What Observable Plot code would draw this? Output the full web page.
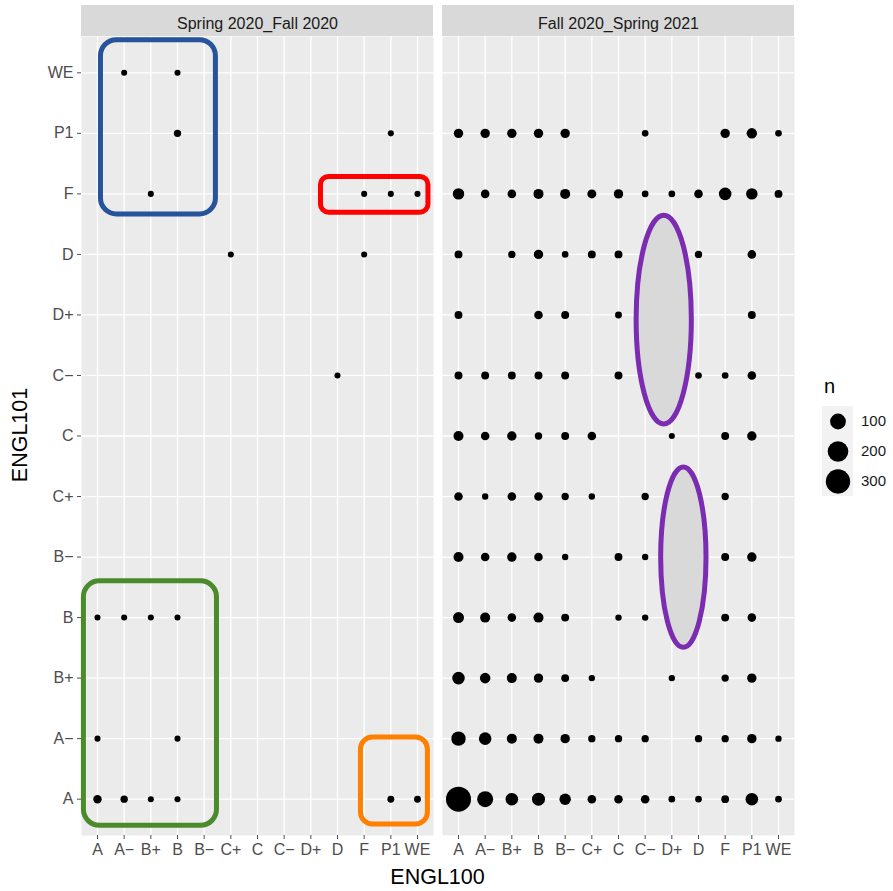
<!DOCTYPE html>
<html>
<head>
<meta charset="utf-8">
<script src="https://cdn.jsdelivr.net/npm/d3@7"></script>
<script src="https://cdn.jsdelivr.net/npm/@observablehq/plot@0.6"></script>
<style>
  html, body { margin: 0; padding: 0; background: #fff; }
  #chart { position: relative; width: 893px; height: 891px; font-family: "Liberation Sans", Arial, Helvetica, sans-serif; }
  #chart > svg.main { position: absolute; left: 0; top: 0; }
  .axis-title { position: absolute; color: #000; font-size: 21.5px; white-space: nowrap; line-height: 1; }
  #xtitle { left: 437.5px; top: 878px; transform: translate(-50%, -50%); }
  #ytitle { left: 21px; top: 435px; transform: translate(-50%, -50%) rotate(-90deg); }
  #legend-title { position: absolute; left: 824px; top: 376px; font-size: 20px; color: #000; line-height: 1; }
  #legend { position: absolute; left: 822px; top: 405px; }
</style>
</head>
<body>
<div id="chart">
  <div id="xtitle" class="axis-title">ENGL100</div>
  <div id="ytitle" class="axis-title">ENGL101</div>
  <div id="legend-title">n</div>
  <div id="legend"></div>
</div>
<script>
// Grade categories shared by both axes (bottom-to-top on y, left-to-right on x)
const grades = ["A", "A−", "B+", "B", "B−", "C+", "C", "C−", "D+", "D", "F", "P1", "WE"];
const terms = ["Spring 2020_Fall 2020", "Fall 2020_Spring 2021"];
const legendValues = [100, 200, 300];

// Counts per grade pair: [ENGL101 grade, ENGL100 grade, n]
const springFall2020 = [
  ["WE", "A−", 3], ["WE", "B", 3],
  ["P1", "B", 8], ["P1", "P1", 3],
  ["F", "B+", 3], ["F", "F", 3], ["F", "P1", 3], ["F", "WE", 3],
  ["D", "C+", 3], ["D", "F", 3],
  ["C−", "D", 3],
  ["B", "A", 3], ["B", "A−", 3], ["B", "B+", 3], ["B", "B", 3],
  ["A−", "A", 3], ["A−", "B", 3],
  ["A", "A", 14], ["A", "A−", 8], ["A", "B+", 3], ["A", "B", 3], ["A", "P1", 6], ["A", "WE", 6]
];

const fall2020Spring2021 = [
  ["P1", "A", 21], ["P1", "A−", 21], ["P1", "B+", 21], ["P1", "B", 21], ["P1", "B−", 21], ["P1", "C−", 5],
  ["P1", "F", 21], ["P1", "P1", 30], ["P1", "WE", 5],
  ["F", "A", 40], ["F", "A−", 15], ["F", "B+", 15], ["F", "B", 26], ["F", "B−", 26], ["F", "C+", 18],
  ["F", "C", 21], ["F", "C−", 5], ["F", "D+", 5], ["F", "D", 15], ["F", "F", 53], ["F", "P1", 40], ["F", "WE", 11],
  ["D", "A", 11], ["D", "B+", 8], ["D", "B", 21], ["D", "B−", 5], ["D", "C+", 11], ["D", "C", 11],
  ["D", "D", 8], ["D", "P1", 15],
  ["D+", "A", 11], ["D+", "B", 15], ["D+", "B−", 11], ["D+", "C", 6], ["D+", "P1", 11],
  ["C−", "A", 11], ["C−", "A−", 11], ["C−", "B+", 11], ["C−", "B", 11], ["C−", "B−", 11], ["C−", "C", 11],
  ["C−", "D", 5], ["C−", "F", 5], ["C−", "P1", 15],
  ["C", "A", 26], ["C", "A−", 15], ["C", "B+", 21], ["C", "B", 8], ["C", "B−", 11], ["C", "C+", 15],
  ["C", "D+", 3], ["C", "F", 11], ["C", "P1", 21],
  ["C+", "A", 15], ["C+", "A−", 4], ["C+", "B+", 15], ["C+", "B", 15], ["C+", "B−", 8], ["C+", "C+", 4],
  ["C+", "C−", 8], ["C+", "F", 8],
  ["B−", "A", 26], ["B−", "A−", 15], ["B−", "B+", 21], ["B−", "B", 15], ["B−", "B−", 4], ["B−", "C", 11],
  ["B−", "C−", 4], ["B−", "F", 11], ["B−", "P1", 21],
  ["B", "A", 35], ["B", "A−", 26], ["B", "B+", 15], ["B", "B", 26], ["B", "B−", 11], ["B", "C", 4],
  ["B", "C−", 4], ["B", "F", 11], ["B", "P1", 15],
  ["B+", "A", 53], ["B+", "A−", 31], ["B+", "B+", 26], ["B+", "B", 21], ["B+", "B−", 11], ["B+", "C+", 4],
  ["B+", "D+", 4], ["B+", "F", 8], ["B+", "P1", 21],
  ["A−", "A", 78], ["A−", "A−", 53], ["A−", "B+", 26], ["A−", "B", 26], ["A−", "B−", 21], ["A−", "C+", 8],
  ["A−", "C", 8], ["A−", "C−", 8], ["A−", "D", 8], ["A−", "F", 8], ["A−", "P1", 21], ["A−", "WE", 4],
  ["A", "A", 320], ["A", "A−", 104], ["A", "B+", 53], ["A", "B", 59], ["A", "B−", 40], ["A", "C+", 15],
  ["A", "C", 15], ["A", "C−", 15], ["A", "D+", 5], ["A", "D", 5], ["A", "F", 10], ["A", "P1", 53], ["A", "WE", 5]
];

// Highlight outlines, in grade-index units of each panel
const boxes = [
  {term: terms[0], x1: 0.13, x2: 4.44, y1: 9.66, y2: 12.54, color: "#27539A", radius: 16},
  {term: terms[0], x1: 8.38, x2: 12.41, y1: 9.69, y2: 10.28, color: "#FF0000", radius: 8},
  {term: terms[0], x1: -0.51, x2: 4.48, y1: -0.44, y2: 3.6, color: "#4B8B2B", radius: 16},
  {term: terms[0], x1: 9.88, x2: 12.39, y1: -0.42, y2: 1.02, color: "#FF7F00", radius: 12}
];
const ovals = [
  {term: terms[1], x1: 6.68, x2: 8.75, y1: 6.19, y2: 9.64},
  {term: terms[1], x1: 7.6, x2: 9.3, y1: 2.5, y2: 5.48}
];

const toCells = (rows, term) => rows.map(([engl101, engl100, n]) => ({term, engl100, engl101, n}));
const cells = [...toCells(springFall2020, terms[0]), ...toCells(fall2020Spring2021, terms[1])];

const gradeIndex = d3.range(grades.length);
const lo = -0.6, hi = grades.length - 1 + 0.6;
const stripTop = hi + 0.512;   // grey facet strip above each panel
const sizeScale = {type: "sqrt", domain: [1, 320], range: [2.6, 12.5]};
const font = "'Liberation Sans', Arial, Helvetica, sans-serif";

const main = Plot.plot({
  width: 893,
  height: 891,
  marginLeft: 81,
  marginRight: 99,
  marginTop: 36,
  marginBottom: 56,
  style: {fontFamily: font, background: "transparent"},
  fx: {domain: terms, paddingInner: 0.025, paddingOuter: 0, label: null},
  x: {type: "linear", domain: [lo, hi], label: null},
  y: {type: "linear", domain: [lo, hi], label: null},
  r: sizeScale,
  marks: [
    Plot.frame({fill: "#EBEBEB", stroke: "none"}),
    Plot.rect([0], {x1: lo, x2: hi, y1: hi, y2: stripTop, fill: "#D9D9D9"}),
    Plot.gridX(gradeIndex, {stroke: "white", strokeOpacity: 1, strokeWidth: 1.3}),
    Plot.gridY(gradeIndex, {stroke: "white", strokeOpacity: 1, strokeWidth: 1.3}),
    Plot.axisX(gradeIndex, {tickFormat: (i) => grades[i], tickSize: 4, tickPadding: 4, fontSize: 16, color: "#4D4D4D", label: null}),
    Plot.axisY(gradeIndex, {tickFormat: (i) => grades[i], tickSize: 4, tickPadding: 4, fontSize: 16, color: "#4D4D4D", label: null}),
    Plot.axisFx({anchor: "top", tickSize: 0, tickPadding: 8, fontSize: 16, color: "#1A1A1A", label: null}),
    Plot.dot(cells, {
      fx: "term",
      x: (d) => grades.indexOf(d.engl100),
      y: (d) => grades.indexOf(d.engl101),
      r: "n",
      fill: "black"
    }),
    ...boxes.map((b) => Plot.rect([b], {
      fx: "term", x1: "x1", x2: "x2", y1: "y1", y2: "y2",
      fill: "none", stroke: b.color, strokeWidth: 5, rx: b.radius, ry: b.radius
    })),
    Plot.rect(ovals, {
      fx: "term", x1: "x1", x2: "x2", y1: "y1", y2: "y2",
      fill: "#D9D9D9", stroke: "#7B2CB0", strokeWidth: 5, rx: 999, ry: 999
    })
  ]
});
main.classList.add("main");
document.getElementById("chart").prepend(main);

// Size legend for n
const legend = Plot.plot({
  width: 71,
  height: 91,
  margin: 0,
  style: {fontFamily: font, background: "transparent"},
  x: {type: "band", domain: ["key"], range: [0, 31], padding: 0, axis: null},
  y: {type: "band", domain: legendValues, range: [0, 91], padding: 0, axis: null},
  r: sizeScale,
  marks: [
    Plot.cell(legendValues, {x: () => "key", y: (d) => d, fill: "#F2F2F2"}),
    Plot.dot(legendValues, {x: () => "key", y: (d) => d, r: (d) => d, fill: "black"}),
    Plot.text(legendValues, {x: () => "key", y: (d) => d, text: (d) => String(d), dx: 23, textAnchor: "start", fontSize: 15, fill: "#1A1A1A"})
  ]
});
document.getElementById("legend").append(legend);
</script>
</body>
</html>
